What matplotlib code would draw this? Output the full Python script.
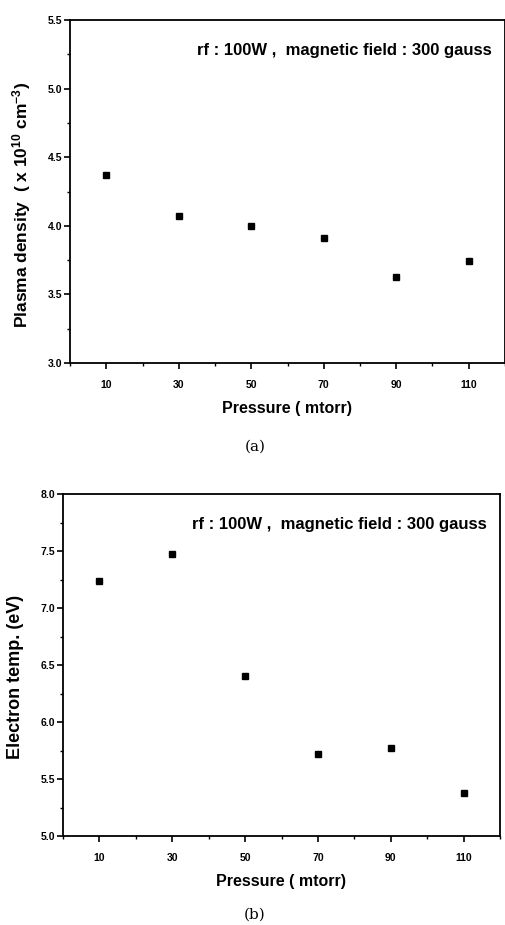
import matplotlib
matplotlib.use("Agg")
import matplotlib.pyplot as plt
from matplotlib.ticker import MultipleLocator

# data
pressure = [10, 30, 50, 70, 90, 110]
plasma_density = [4.37, 4.07, 4.00, 3.91, 3.63, 3.74]
electron_temp = [7.24, 7.47, 6.40, 5.72, 5.77, 5.38]
x_ticks = [10, 30, 50, 70, 90, 110]
note = "rf : 100W ,  magnetic field : 300 gauss"

plt.rcParams['font.family'] = ['Liberation Sans', 'DejaVu Sans']
plt.rcParams['font.weight'] = 'bold'
plt.rcParams['mathtext.default'] = 'regular'

fig = plt.figure(figsize=(5.06, 9.25), dpi=100)


def style_axes(ax, ylim, ymajor):
    ax.set_xlim(0, 120)
    ax.set_ylim(*ylim)
    ax.set_xticks(x_ticks)
    ax.xaxis.set_minor_locator(MultipleLocator(10))
    ax.yaxis.set_major_locator(MultipleLocator(ymajor))
    ax.yaxis.set_minor_locator(MultipleLocator(ymajor / 2))
    ax.tick_params(which='major', direction='out', length=4, width=1.2, labelsize=7.5, pad=8)
    ax.tick_params(axis='y', which='major', pad=1.5)
    ax.tick_params(which='minor', direction='out', length=2.5, width=1)
    for s in ax.spines.values():
        s.set_linewidth(1.3)
    for lab in ax.get_xticklabels() + ax.get_yticklabels():
        lab.set_fontweight('bold')
    ax.text(0.97, 0.91, note, transform=ax.transAxes, ha='right', va='center',
            fontsize=12, fontweight='bold')
    ax.set_xlabel('Pressure ( mtorr)', fontsize=11.5, fontweight='bold', labelpad=8)


# (a) plasma density
ax1 = fig.add_axes([70 / 506, 562 / 925, 435 / 506, 343 / 925])
ax1.plot(pressure, plasma_density, 's', color='black', markersize=4.5)
style_axes(ax1, (3.0, 5.5), 0.5)
ax1.set_yticklabels(['%.1f' % v for v in ax1.get_yticks()])
ax1.set_ylabel('Plasma density  ( x 10$^{10}$ cm$^{-3}$)', fontsize=12.5, fontweight='bold')
ax1.yaxis.set_label_coords(-0.085, 0.46)

# (b) electron temperature
ax2 = fig.add_axes([63 / 506, 89 / 925, 437 / 506, 342 / 925])
ax2.plot(pressure, electron_temp, 's', color='black', markersize=4.5)
style_axes(ax2, (5.0, 8.0), 0.5)
ax2.set_yticklabels(['%.1f' % v for v in ax2.get_yticks()])
ax2.set_ylabel('Electron temp. (eV)', fontsize=13, fontweight='bold')
ax2.yaxis.set_label_coords(-0.09, 0.465)

fig.text(255 / 506, 1 - 447 / 925, '(a)', ha='center', va='center',
         fontsize=11, fontweight='normal', family='DejaVu Serif')
fig.text(255 / 506, 1 - 915 / 925, '(b)', ha='center', va='center',
         fontsize=11, fontweight='normal', family='DejaVu Serif')

fig.savefig('out.png', dpi=100)
